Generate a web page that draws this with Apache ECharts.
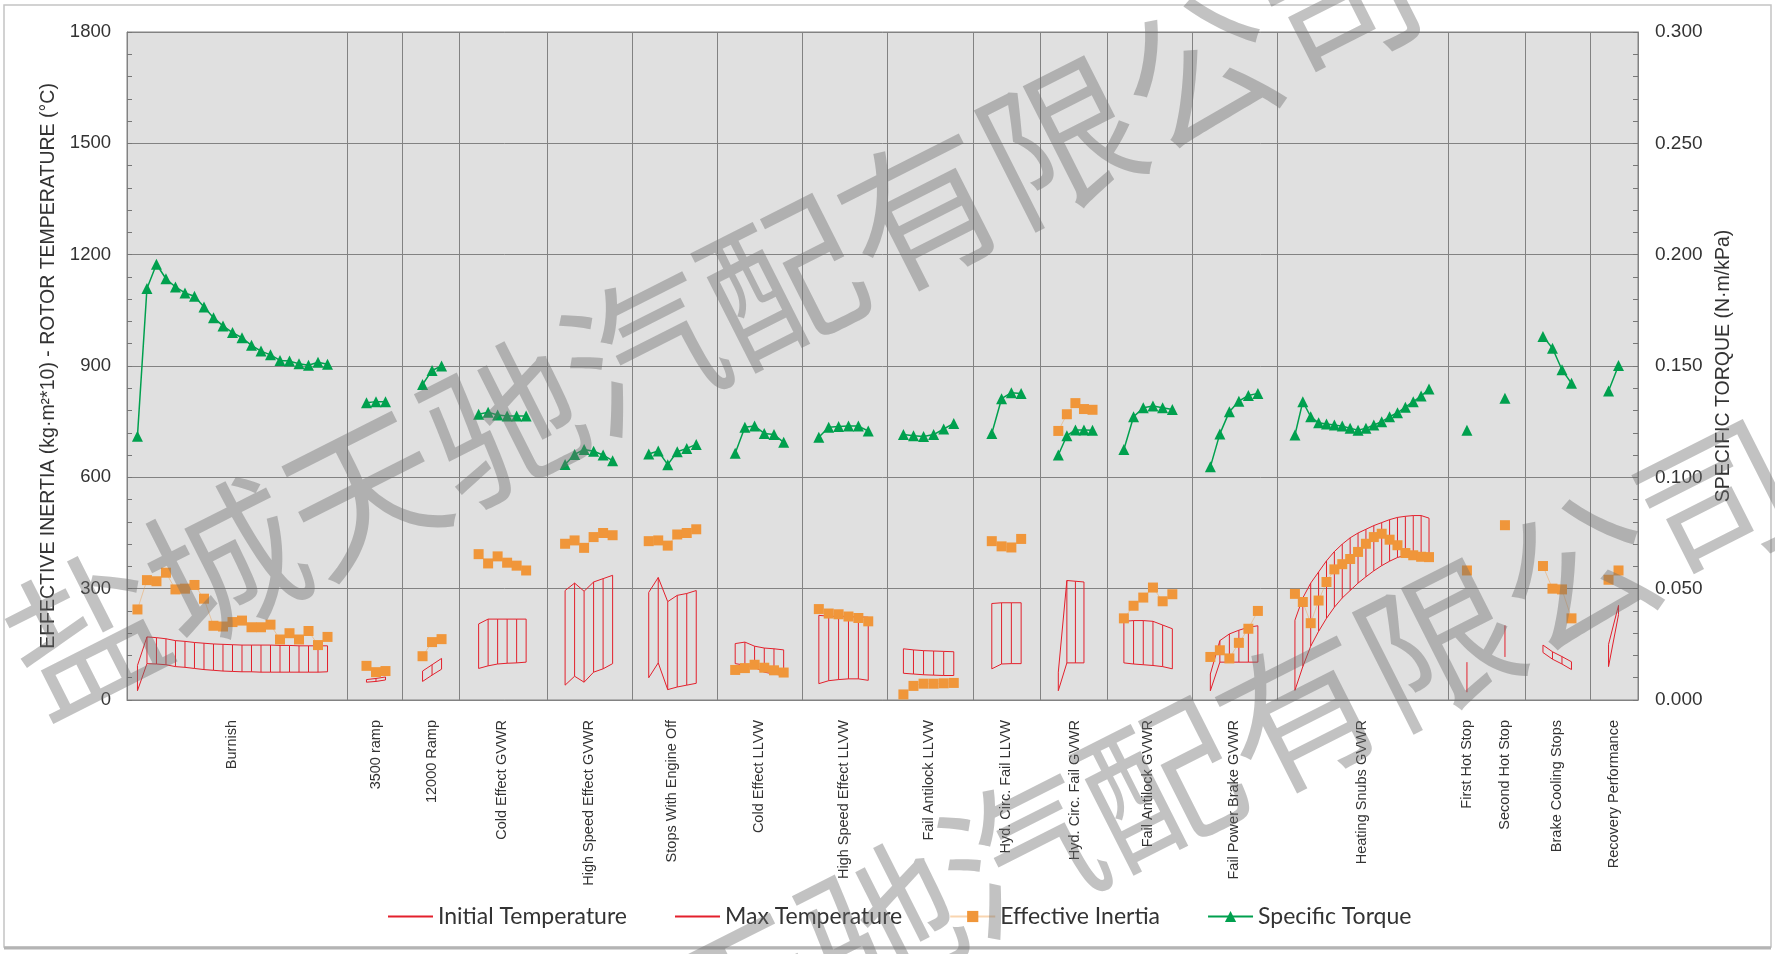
<!DOCTYPE html>
<html>
<head>
<meta charset="utf-8">
<script src="https://cdn.jsdelivr.net/npm/echarts/dist/echarts.min.js"></script>
<style>
html, body { margin: 0; padding: 0; background: #fff; }
#main { width: 1775px; height: 954px; }
</style>
</head>
<body>
<div id="main"></div>
<script>
// test segments (label, first stop position, stop spacing)
var segNames = ['Burnish', '3500 ramp', '12000 Ramp', 'Cold Effect GVWR', 'High Speed Effect GVWR',
	'Stops With Engine Off', 'Cold Effect LLVW', 'High Speed Effect LLVW', 'Fail Antilock LLVW',
	'Hyd. Circ. Fail LLVW', 'Hyd. Circ. Fail GVWR', 'Fail Antilock GVWR', 'Fail Power Brake GVWR',
	'Heating Snubs GVWR', 'First Hot Stop', 'Second Hot Stop', 'Brake Cooling Stops', 'Recovery Performance'];
var segFirst = [1.1, 25.2, 31.1, 37.0, 46.1, 54.9, 64.0, 72.8, 81.7, 91.0, 98.0, 104.9, 114.0, 122.9, 141.0, 145.0, 149.0, 155.9];
var segStep = [1, 1, 1, 1, 1, 1, 1.02, 1.04, 1.06, 1.03, 0.9, 1.02, 1, 0.83, 1, 1, 1, 1.05];
// block boundaries between test groups
var dividers = [23.2, 29.0, 35.0, 44.2, 53.2, 62.1, 71.1, 80.0, 89.1, 96.1, 103.1, 112.1, 121.0, 139.0, 147.1, 154.0];

// SPECIFIC TORQUE (N·m/kPa)
var torque = [
	[0.1185, 0.1848, 0.1957, 0.1892, 0.1855, 0.1828, 0.1813, 0.1765, 0.1717, 0.168, 0.165, 0.1627, 0.1593, 0.1567, 0.155, 0.1525, 0.1522, 0.151, 0.1503, 0.1517, 0.1508],
	[0.1335, 0.134, 0.134],
	[0.1417, 0.148, 0.150],
	[0.1283, 0.1292, 0.128, 0.1275, 0.1275, 0.1275],
	[0.1058, 0.1103, 0.1125, 0.1117, 0.110, 0.1075],
	[0.1105, 0.1118, 0.1057, 0.1115, 0.113, 0.1148],
	[0.1108, 0.1225, 0.123, 0.1197, 0.1192, 0.1157],
	[0.118, 0.1225, 0.1228, 0.123, 0.123, 0.1208],
	[0.1192, 0.1187, 0.1183, 0.1192, 0.1217, 0.1242],
	[0.1197, 0.1353, 0.138, 0.1377],
	[0.110, 0.1187, 0.1213, 0.1213, 0.1212],
	[0.1125, 0.1272, 0.1312, 0.132, 0.1313, 0.1305],
	[0.1047, 0.1195, 0.1295, 0.1342, 0.1368, 0.1377],
	[0.119, 0.134, 0.1272, 0.1245, 0.124, 0.1235, 0.123, 0.122, 0.1212, 0.122, 0.1235, 0.125, 0.1272, 0.129, 0.1315, 0.134, 0.1365, 0.1397],
	[0.1212],
	[0.1355],
	[0.1633, 0.158, 0.1483, 0.1422],
	[0.1388, 0.1502]
];

// EFFECTIVE INERTIA (kg·m²*10)
var inertia = [
	[244, 323, 320, 343, 298, 300, 310, 273, 200, 198, 210, 214, 196, 196, 203, 163, 180, 163, 186, 148, 170],
	[92, 75, 78],
	[118, 156, 164],
	[393, 368, 387, 370, 362, 349],
	[421, 430, 410, 439, 450, 444],
	[428, 430, 416, 446, 450, 460],
	[81, 86, 95, 87, 80, 74],
	[245, 233, 231, 225, 221, 212],
	[15, 38, 44, 44, 45, 46],
	[428, 414, 411, 434],
	[725, 770, 800, 784, 782],
	[220, 254, 276, 303, 266, 285],
	[116, 134, 112, 154, 192, 240],
	[286, 264, 207, 268, 318, 352, 366, 380, 399, 421, 439, 448, 432, 417, 396, 390, 386, 385],
	[349],
	[471],
	[361, 300, 298, 220],
	[324, 349]
];

// ROTOR TEMPERATURE (°C) at start of stop
var initTemp = [
	[25, 98, 97, 95, 90, 88, 85, 82, 80, 78, 77, 76, 76, 75, 75, 75, 75, 75, 75, 75, 76],
	[48, 50, 54],
	[50, 67, 83],
	[85, 92, 97, 99, 100, 102],
	[40, 64, 48, 75, 84, 98],
	[60, 100, 28, 35, 40, 45],
	[98, 94, 88, 75, 70, 66],
	[44, 52, 55, 57, 57, 53],
	[72, 70, 68, 67, 66, 66],
	[84, 97, 98, 98],
	[25, 100, 100, 100],
	[100, 97, 95, 93, 90, 84],
	[25, 102, 102, 102, 102, 102],
	[26, 90, 145, 185, 220, 250, 275, 295, 315, 332, 348, 362, 374, 384, 390, 390, 388, 385],
	[21],
	[116],
	[128, 110, 97, 82],
	[90, 230]
];

// ROTOR TEMPERATURE (°C) max during stop
var maxTemp = [
	[93, 170, 168, 165, 160, 158, 155, 153, 151, 150, 149, 148, 148, 148, 148, 147, 147, 146, 146, 146, 146],
	[55, 58, 62],
	[78, 95, 112],
	[205, 218, 218, 218, 218, 218],
	[295, 315, 293, 318, 327, 336],
	[290, 330, 265, 282, 287, 295],
	[152, 156, 145, 140, 138, 135],
	[228, 226, 225, 224, 224, 223],
	[138, 135, 133, 132, 131, 130],
	[260, 262, 262, 262],
	[75, 322, 320, 318],
	[212, 214, 214, 212, 202, 192],
	[70, 160, 178, 188, 196, 200],
	[215, 275, 315, 345, 375, 400, 420, 437, 450, 460, 470, 478, 486, 492, 495, 497, 497, 490],
	[102],
	[201],
	[148, 130, 117, 103],
	[150, 255]
];

var legendNames = ['Initial Temperature', 'Max Temperature', 'Effective Inertia', 'Specific Torque'];

function stopX(s, i) {
	return +(segFirst[s] + i * segStep[s]).toFixed(3);
}

// line data with a break between test groups
function lineData(values) {
	var out = [];
	for (var s = 0; s < values.length; s++) {
		for (var i = 0; i < values[s].length; i++) {
			out.push([stopX(s, i), values[s][i]]);
		}
		out.push([stopX(s, 0), '-']);
	}
	return out;
}

// initial -> max vertical lines
var hiloData = [];
for (var s = 0; s < initTemp.length; s++) {
	for (var i = 0; i < initTemp[s].length; i++) {
		hiloData.push([stopX(s, i), initTemp[s][i], maxTemp[s][i]]);
	}
}

var labelCenters = [];
for (var s = 0; s < segNames.length; s++) {
	labelCenters.push(+(segFirst[s] + (torque[s].length - 1) * segStep[s] / 2).toFixed(3));
}

var RED = '#e3202c';
var GRID_LINE = '#828282';
var AXIS_FONT = '"Liberation Sans", Arial, sans-serif';
var WATERMARK = '盐城天驰汽配有限公司';

var myChart = echarts.init(document.getElementById('main'));

var option = {
	animation : false,
	backgroundColor : '#fff',
	grid : {
		left : 127,
		right : 137,
		top : 32,
		bottom : 254,
		show : true,
		backgroundColor : '#e0e0e0',
		borderColor : GRID_LINE,
		borderWidth : 1
	},
	legend : {
		data : [
			{ name : 'Initial Temperature', itemStyle : { opacity : 0 } },
			{ name : 'Max Temperature', itemStyle : { opacity : 0 } },
			{ name : 'Effective Inertia' },
			{ name : 'Specific Torque' }
		],
		left : 382,
		top : 900,
		itemWidth : 45,
		itemHeight : 14,
		itemGap : 47,
		lineStyle : {
			width : 2
		},
		textStyle : {
			fontFamily : 'Lato, "Open Sans", sans-serif',
			fontSize : 23,
			color : '#333'
		}
	},
	xAxis : {
		type : 'value',
		min : 0,
		max : 159,
		splitLine : { show : false },
		axisTick : { show : false },
		axisLine : { show : true, lineStyle : { color : GRID_LINE } },
		axisLabel : {
			customValues : labelCenters,
			rotate : 90,
			margin : 20,
			fontSize : 14.5,
			fontFamily : AXIS_FONT,
			color : '#333',
			formatter : function(v) {
				for (var k = 0; k < labelCenters.length; k++) {
					if (Math.abs(labelCenters[k] - v) < 0.01) return segNames[k];
				}
				return '';
			}
		}
	},
	yAxis : [ {
		type : 'value',
		min : 0,
		max : 1800,
		interval : 300,
		name : 'EFFECTIVE INERTIA (kg·m²*10) - ROTOR TEMPERATURE (°C)',
		nameLocation : 'middle',
		nameRotate : 90,
		nameGap : 63,
		nameTextStyle : {
			fontFamily : AXIS_FONT,
			fontSize : 19.5,
			color : '#333'
		},
		axisLine : { show : true, lineStyle : { color : GRID_LINE } },
		axisTick : { show : true, inside : true, length : 5, lineStyle : { color : '#777' } },
		minorTick : { show : true, splitNumber : 5, length : 5, lineStyle : { color : '#777' } },
		splitLine : { show : true, lineStyle : { color : GRID_LINE, width : 1 } },
		axisLabel : {
			margin : 16,
			fontSize : 18.5,
			fontFamily : AXIS_FONT,
			color : '#333',
			formatter : function(v) {
				return String(v);
			}
		}
	}, {
		type : 'value',
		min : 0,
		max : 0.3,
		interval : 0.05,
		position : 'right',
		name : 'SPECIFIC TORQUE (N·m/kPa)',
		nameLocation : 'middle',
		nameRotate : 90,
		nameGap : 74,
		nameTextStyle : {
			fontFamily : AXIS_FONT,
			fontSize : 19.5,
			color : '#333'
		},
		axisLine : { show : true, lineStyle : { color : GRID_LINE } },
		axisTick : { show : true, inside : true, length : 5, lineStyle : { color : '#777' } },
		minorTick : { show : true, splitNumber : 5, length : 5, lineStyle : { color : '#777' } },
		splitLine : { show : false },
		axisLabel : {
			margin : 17,
			fontSize : 19,
			fontFamily : AXIS_FONT,
			color : '#333',
			formatter : function(v) {
				return v.toFixed(3);
			}
		}
	} ],
	series : [ {
		name : 'hilo',
		type : 'custom',
		data : hiloData,
		encode : { x : 0, y : [ 1, 2 ] },
		silent : true,
		z : 2,
		renderItem : function(params, api) {
			var p1 = api.coord([ api.value(0), api.value(1) ]);
			var p2 = api.coord([ api.value(0), api.value(2) ]);
			return {
				type : 'line',
				shape : { x1 : p1[0], y1 : p1[1], x2 : p2[0], y2 : p2[1] },
				style : { stroke : RED, lineWidth : 1 }
			};
		}
	}, {
		name : 'Initial Temperature',
		type : 'line',
		data : lineData(initTemp),
		symbol : 'none',
		color : RED,
		lineStyle : { color : RED, width : 1 },
		z : 3,
		markLine : {
			silent : true,
			symbol : [ 'none', 'none' ],
			label : { show : false },
			lineStyle : { color : GRID_LINE, type : 'solid', width : 1 },
			data : dividers.map(function(d) {
				return { xAxis : d };
			})
		}
	}, {
		name : 'Max Temperature',
		type : 'line',
		data : lineData(maxTemp),
		symbol : 'none',
		color : RED,
		lineStyle : { color : RED, width : 1 },
		z : 3
	}, {
		name : 'Effective Inertia',
		type : 'line',
		data : lineData(inertia),
		symbol : 'rect',
		symbolSize : 10,
		color : '#f0963a',
		itemStyle : { color : '#f0963a' },
		lineStyle : { color : 'rgba(240,150,58,0.4)', width : 1 },
		z : 4
	}, {
		name : 'Specific Torque',
		type : 'line',
		yAxisIndex : 1,
		data : lineData(torque),
		symbol : 'triangle',
		symbolSize : 11,
		color : '#00a04e',
		itemStyle : { color : '#00a04e' },
		lineStyle : { color : '#00a04e', width : 1.5 },
		z : 5
	} ],
	graphic : [ {
		type : 'rect',
		shape : { x : 4, y : 5, width : 1767, height : 942 },
		style : { fill : 'none', stroke : '#c4c4c4', lineWidth : 1.5 },
		silent : true,
		z : 0
	}, {
		type : 'line',
		shape : { x1 : 4, y1 : 948, x2 : 1771, y2 : 948 },
		style : { stroke : '#b4b4b4', lineWidth : 3 },
		silent : true,
		z : 0
	}, {
		type : 'text',
		x : 712,
		y : 316,
		rotation : 26.8 * Math.PI / 180,
		silent : true,
		z : 100,
		style : {
			text : WATERMARK,
			font : '156px "Noto Sans CJK SC"',
			fill : 'rgba(110,110,110,0.42)',
			align : 'center',
			verticalAlign : 'middle'
		}
	}, {
		type : 'text',
		x : 1090,
		y : 818,
		rotation : 26.8 * Math.PI / 180,
		silent : true,
		z : 100,
		style : {
			text : WATERMARK,
			font : '156px "Noto Sans CJK SC"',
			fill : 'rgba(110,110,110,0.42)',
			align : 'center',
			verticalAlign : 'middle'
		}
	} ]
};
myChart.setOption(option);
</script>
</body>
</html>
